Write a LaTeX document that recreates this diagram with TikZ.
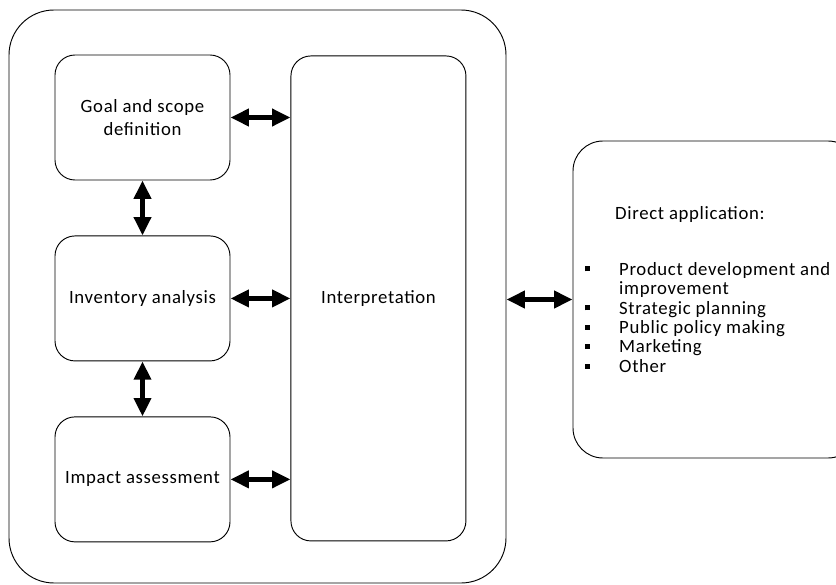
\documentclass[tikz,border=0pt]{standalone}
\usepackage{fontspec}
\setmainfont{Carlito}[LetterSpace=3.5]
\usepackage{tikz}
\usetikzlibrary{arrows.meta}
\usetikzlibrary{positioning}

\newcommand{\sqbullet}{\rule[0.2em]{0.15cm}{0.15cm}}

\tikzset{
  stage/.style={draw, thick, rounded corners=0.6cm, minimum width=5.25cm,
    minimum height=3.75cm, align=center, font=\fontsize{16}{19.6}\selectfont},
  twoway/.style={line width=0.15cm,
    {Triangle[length=0.55cm, width=0.5cm]}-{Triangle[length=0.55cm, width=0.5cm]}}
}

\begin{document}
\begin{tikzpicture}

  \useasboundingbox (0, 0) rectangle (25.08, -17.55);
  \clip (0, 0) rectangle (25.08, -17.55);

  \node [draw, thick, rounded corners=1.35cm, minimum width=14.91cm,
    minimum height=17.19cm] (lca) at (7.725, -8.895) {};

  \node [stage] (goal) at (4.275, -3.525) {Goal and scope\\definition};
  \node [stage, below=1.65cm of goal] (inventory) {Inventory analysis};
  \node [stage, below=1.65cm of inventory] (impact) {Impact assessment};
  \node [stage, minimum height=14.55cm, right=1.8cm of inventory]
    (interp) {Interpretation};

  \node [draw, thick, rounded corners=0.9cm, minimum width=8.55cm,
    minimum height=9.51cm] (direct) at (21.465, -8.985) {};

  \node [anchor=base west, inner sep=0pt,
    font=\fontsize{16}{16.6}\selectfont] (uses) at (17.55, -6.57)
    {\begin{tabular}[t]{@{}p{1.02cm}@{}l@{}}
     \multicolumn{2}{@{}l@{}}{\hspace{0.9cm}Direct application:}\\[1.1cm]
     \sqbullet & Product development and\\
               & improvement\\
     \sqbullet & Strategic planning\\
     \sqbullet & Public policy making\\
     \sqbullet & Marketing\\
     \sqbullet & Other
     \end{tabular}};

  \draw [twoway] (goal.east) -- (goal.east -| interp.west);
  \draw [twoway] (inventory.east) -- (inventory.east -| interp.west);
  \draw [twoway] (impact.east) -- (impact.east -| interp.west);
  \draw [twoway] (goal.south) -- (inventory.north);
  \draw [twoway] (inventory.south) -- (impact.north);
  \draw [twoway] (lca.east |- direct.west) -- (direct.west);

\end{tikzpicture}
\end{document}
